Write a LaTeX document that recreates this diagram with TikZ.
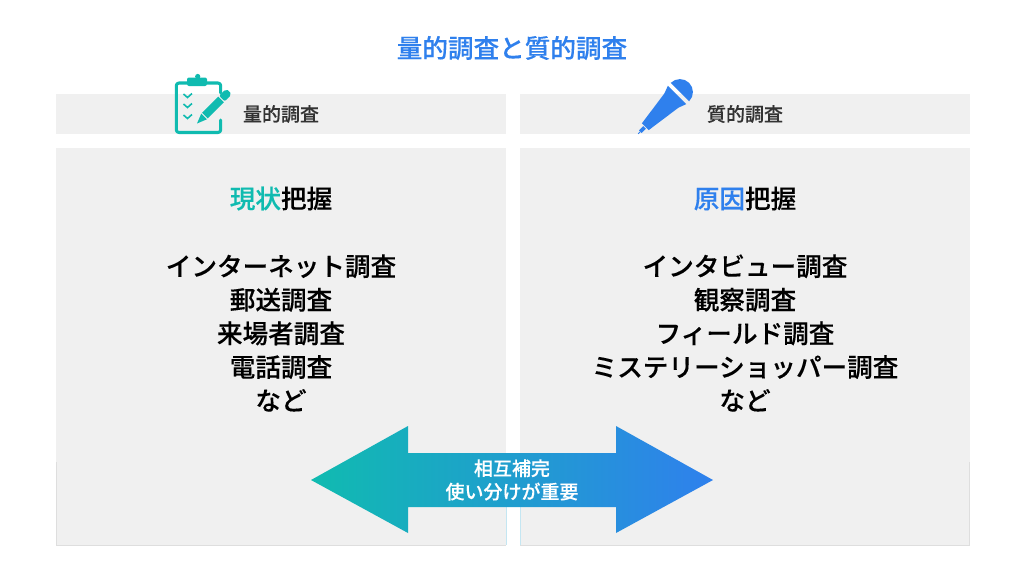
\documentclass[tikz,border=0pt]{standalone}
\usepackage{fontspec}
\setmainfont[FakeBold=0.2]{Noto Sans CJK JP Medium}
\usepackage{tikz}
\definecolor{panelgray}{HTML}{F0F0F0}
\definecolor{edgegray}{HTML}{DEDEDE}
\definecolor{edgeblue}{HTML}{C4E6F2}
\definecolor{tealcol}{HTML}{10BBB0}
\definecolor{bluecol}{HTML}{2F80ED}
\definecolor{labelcol}{HTML}{333333}
\tikzset{
    panel/.style={fill=panelgray,draw=none},
    bodytext/.style={align=center,text=black,font=\fontsize{19.2}{25.2}\selectfont,inner sep=0pt},
    headtext/.style={text=labelcol,font=\fontsize{14.25}{17}\selectfont,inner sep=0pt},
    icon/.style={line width=2.3pt,draw=tealcol,line cap=round,line join=round,rounded corners=2pt},
    checkmark/.style={line width=1.2pt,draw=tealcol},
    edgeline/.style={line width=.5pt,draw=edgegray}
}
\begin{document}
\begin{tikzpicture}[x=.75pt,y=-.75pt]
    \useasboundingbox (0,0) rectangle (1024,576);
    \fill [white] (0,0) rectangle (1024,576);

    \node (title) [text=bluecol,inner sep=0pt,font=\fontsize{19.2}{22}\selectfont] at (512,48) {量的調査と質的調査};

    \path [panel] (56,94) rectangle (506,134);
    \path [panel] (520,94) rectangle (970,134);
    \path [panel] (56,148) rectangle (506,545);
    \path [panel] (520,148) rectangle (970,545);
    \draw [edgeline] (56.5,462) -- (56.5,545.5) -- (506,545.5);
    \draw [edgeline] (520,545.5) -- (969.5,545.5) -- (969.5,462);
    \draw [edgeline,draw=edgeblue] (506,507) -- (506,545);
    \draw [edgeline,draw=edgeblue] (520,507) -- (520,545);

    \node (quanthead) [headtext] at (281,114) {量的調査};
    \node (qualhead) [headtext] at (745,114) {質的調査};

    % clipboard
    \draw [icon] (187,83) -- (176.3,83) -- (176.3,132.5) -- (220.7,132.5) -- (220.7,120);
    \draw [icon] (207,83) -- (220.7,83) -- (220.7,93);
    \fill [tealcol,rounded corners=1.5pt] (187,77.5) rectangle (207,86);
    \fill [tealcol] (197.7,76.5) circle (2.6);
    \draw [checkmark] (183.5,94) -- (187.5,97.5) -- (192,93.5);
    \draw [checkmark] (183.5,104) -- (187.5,107.5) -- (192,103.5);
    \draw [checkmark] (183.5,115) -- (187.5,118.5) -- (192,114.5);
    % pen
    \begin{scope}[shift={(197,123.5)},rotate=45]
        \fill [tealcol] (0,0) -- (10,-4) -- (10,4) -- cycle;
        \fill [tealcol] (11.2,-4) rectangle (34,4);
        \fill [tealcol,rounded corners=1.5pt] (35.2,-4) -- (44.5,-4) -- (46,0) -- (44.5,4) -- (35.2,4) -- cycle;
    \end{scope}

    % microphone
    \begin{scope}[shift={(678.5,93.5)},rotate=225]
        \fill [bluecol] (-2,-13) arc (-90:-270:13) -- cycle;
        \fill [bluecol] (2,-13) -- (10,-10) -- (47,-4.8) -- (47,4.8) -- (10,10) -- (2,13) -- cycle;
        \fill [bluecol] (48,-1.8) rectangle (54,1.8);
        \fill [bluecol] (54,-.5) rectangle (57,.5);
    \end{scope}

    \node (leftmain) [bodytext] at (281,198.5) {{\color{tealcol}現状}把握};
    \node (rightmain) [bodytext] at (745,198.5) {{\color{bluecol}原因}把握};
    \node (leftlist) [bodytext] at (281,333) {インターネット調査\\郵送調査\\来場者調査\\電話調査\\など};
    \node (rightlist) [bodytext] at (745,333) {インタビュー調査\\観察調査\\フィールド調査\\ミステリーショッパー調査\\など};

    \path [left color=tealcol,right color=bluecol] (311,480) -- (408,426) -- (408,453) -- (616,453) -- (616,426) -- (713,480) -- (616,533) -- (616,507) -- (408,507) -- (408,533) -- cycle;
    \node (arrowtext) [align=center,text=white,inner sep=0pt,font=\fontsize{14.25}{17.5}\selectfont] at (512,480) {相互補完\\使い分けが重要};
\end{tikzpicture}
\end{document}
